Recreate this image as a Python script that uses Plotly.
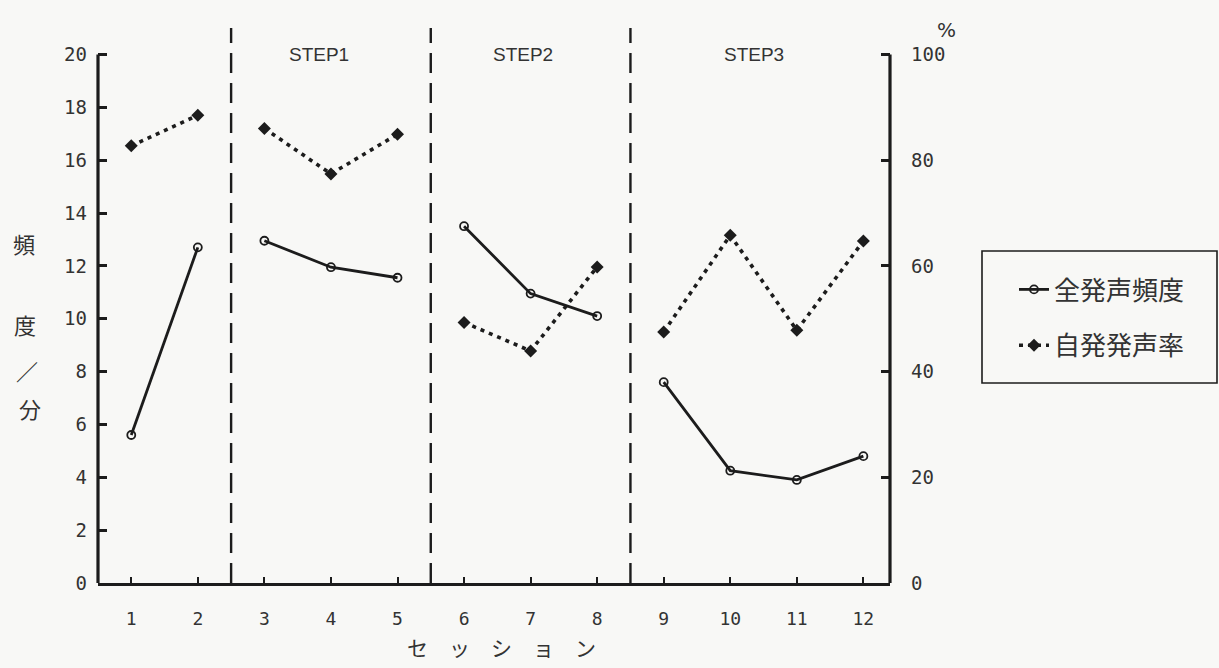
import plotly.graph_objects as go

# Sessions and the study phase each one belongs to
sessions = [1, 2, 3, 4, 5, 6, 7, 8, 9, 10, 11, 12]
phase = [0, 0, 1, 1, 1, 2, 2, 2, 3, 3, 3, 3]

# 全発声頻度 (utterances per minute, left axis)
total_freq = [5.6, 12.7, 12.95, 11.95, 11.55, 13.5, 10.95, 10.1, 7.6, 4.25, 3.9, 4.8]
# 自発発声率 (% of utterances that were spontaneous, right axis)
spont_rate = [82.7, 88.5, 86.0, 77.4, 84.9, 49.3, 43.9, 59.8, 47.5, 65.8, 47.8, 64.7]

# Phase dividers and headings
phase_bounds = [2.5, 5.5, 8.5]
step_labels = ["STEP1", "STEP2", "STEP3"]
step_label_x = [3.82, 6.88, 10.36]

left_ticks = [0, 2, 4, 6, 8, 10, 12, 14, 16, 18, 20]
right_ticks = [0, 20, 40, 60, 80, 100]

INK = "#1c1c1c"
TEXT = "#333333"
BG = "#f8f8f6"
MONO = "DejaVu Sans Mono"
CJK = "Noto Sans CJK JP"

# plot-area geometry in pixels
W, H = 1219, 668
ML, MR, MT, MB = 98, 329, 28, 85
PW, PH = W - ML - MR, H - MT - MB


def px(x):
    return (x - ML) / PW


def py(y):
    return (H - MB - y) / PH


def split_by_phase(values):
    """Insert gaps so lines are not joined across phase boundaries."""
    xs, ys = [], []
    for i, (s, v) in enumerate(zip(sessions, values)):
        if i > 0 and phase[i] != phase[i - 1]:
            xs.append(None)
            ys.append(None)
        xs.append(s)
        ys.append(v)
    return xs, ys


fig = go.Figure()

fx, fy = split_by_phase(total_freq)
fig.add_trace(go.Scatter(
    x=fx, y=fy, name="全発声頻度", mode="lines+markers",
    line=dict(color=INK, width=2.8),
    marker=dict(symbol="circle-open", size=8, color=INK, line=dict(width=1.8)),
    connectgaps=False, legendgroup="a", yaxis="y",
))

rx, ry = split_by_phase(spont_rate)
fig.add_trace(go.Scatter(
    x=rx, y=ry, name="自発発声率", mode="lines+markers",
    line=dict(color=INK, width=3.6, dash="4px,5px"),
    marker=dict(symbol="diamond", size=10, color=INK),
    connectgaps=False, legendgroup="b", yaxis="y2",
))

shapes = []
for b in phase_bounds:
    shapes.append(dict(type="line", xref="x", yref="paper", x0=b, x1=b, y0=0, y1=1,
                       line=dict(color=INK, width=2.4, dash="20px,10px"), layer="below"))
# left and right axis spines, ending at the top tick
shapes.append(dict(type="line", xref="paper", yref="y", x0=0, x1=0, y0=0, y1=20,
                   line=dict(color=INK, width=3.2)))
shapes.append(dict(type="line", xref="paper", yref="y", x0=1, x1=1, y0=0, y1=20,
                   line=dict(color=INK, width=3.2)))
# legend frame
shapes.append(dict(type="rect", xref="paper", yref="paper",
                   x0=px(982), x1=px(1217), y0=py(383), y1=py(251),
                   line=dict(color=INK, width=1.6), fillcolor=BG, layer="below"))

annotations = []
for lab, xp in zip(step_labels, step_label_x):
    annotations.append(dict(x=xp, y=20, xref="x", yref="y", text=lab, showarrow=False,
                            xanchor="center", yanchor="middle",
                            font=dict(family="Liberation Sans", size=19, color=TEXT)))

# vertical axis caption 頻度／分
for ch, xp, yp in [("頻", 24, 243), ("度", 25, 324), ("／", 27, 370), ("分", 30, 408)]:
    annotations.append(dict(x=px(xp), y=py(yp), xref="paper", yref="paper", text=ch,
                            showarrow=False, xanchor="center", yanchor="middle",
                            font=dict(family=CJK, size=22, color=TEXT)))

annotations.append(dict(x=px(946), y=py(30), xref="paper", yref="paper", text="%",
                        showarrow=False, xanchor="center", yanchor="middle",
                        font=dict(family="DejaVu Sans", size=20, color=TEXT)))
annotations.append(dict(x=px(501), y=py(647), xref="paper", yref="paper",
                        text="セ　ッ　シ　ョ　ン", showarrow=False,
                        xanchor="center", yanchor="middle",
                        font=dict(family=CJK, size=21, color=TEXT)))

fig.update_layout(
    width=W, height=H,
    margin=dict(l=ML, r=MR, t=MT, b=MB),
    paper_bgcolor=BG, plot_bgcolor=BG,
    showlegend=True,
    legend=dict(
        x=px(1014), y=py(266), xanchor="left", yanchor="top",
        borderwidth=0, bgcolor="rgba(0,0,0,0)",
        font=dict(family=CJK, size=26, color=TEXT),
        tracegroupgap=19, itemwidth=30,
    ),
    xaxis=dict(
        range=[0.5, 12.4], tickmode="array", tickvals=sessions,
        ticktext=[str(s) for s in sessions],
        ticks="inside", ticklen=6, tickwidth=2, tickcolor=INK,
        showline=True, linecolor=INK, linewidth=3.2, mirror=False,
        showgrid=False, zeroline=False,
        tickfont=dict(family=MONO, size=18, color=TEXT), ticklabelstandoff=17,
    ),
    yaxis=dict(
        range=[0, 21], tickmode="array", tickvals=left_ticks,
        ticktext=[str(t) for t in left_ticks],
        ticks="inside", ticklen=9, tickwidth=3, tickcolor=INK,
        showline=False, showgrid=False, zeroline=False,
        tickfont=dict(family=MONO, size=19, color=TEXT), ticklabelstandoff=10,
    ),
    yaxis2=dict(
        range=[0, 105], overlaying="y", side="right", tickmode="array",
        tickvals=right_ticks, ticktext=[str(t) for t in right_ticks],
        ticks="inside", ticklen=9, tickwidth=3, tickcolor=INK,
        showline=False, showgrid=False, zeroline=False,
        tickfont=dict(family=MONO, size=19, color=TEXT), ticklabelstandoff=20,
    ),
    shapes=shapes,
    annotations=annotations,
)

fig.write_html("out.html")
